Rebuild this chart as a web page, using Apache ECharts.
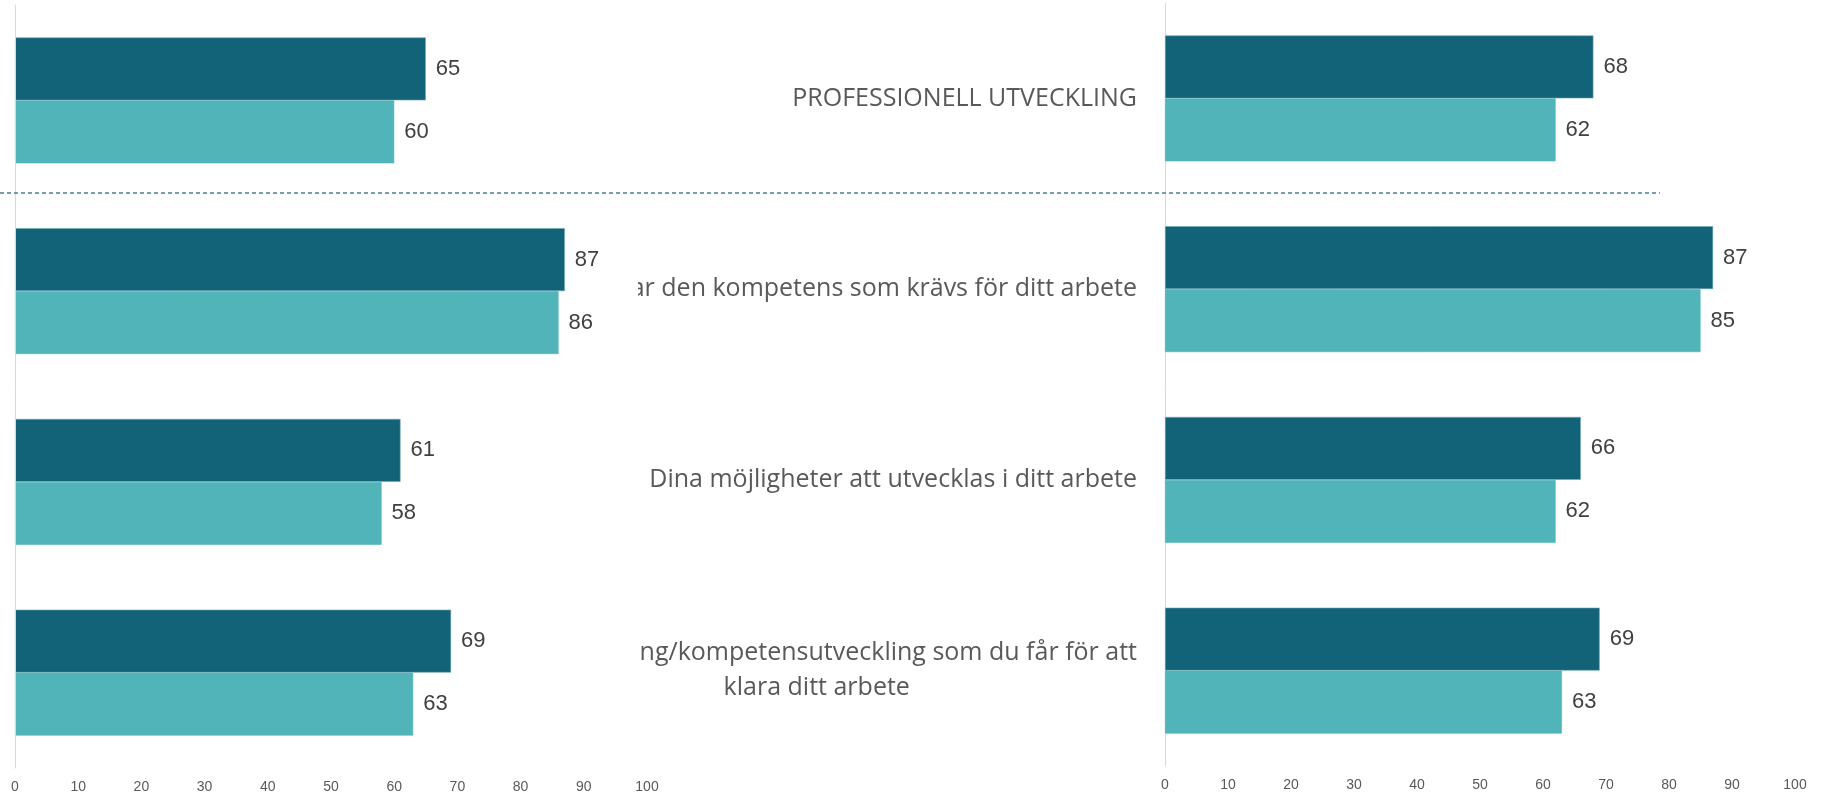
<!DOCTYPE html>
<html>
<head>
<meta charset="utf-8">
<script src="https://cdn.jsdelivr.net/npm/echarts@6/dist/echarts.min.js"></script>
<style>
  html, body { margin: 0; padding: 0; background: #fff; }
  #main { width: 1828px; height: 799px; }
</style>
</head>
<body>
<div id="main"></div>
<script>
// categories (the left chart covers the start of the long labels)
const categories = [
  'PROFESSIONELL UTVECKLING',
  'Du har den kompetens som krävs för ditt arbete',
  'Dina möjligheter att utvecklas i ditt arbete',
  'Den utbildning/kompetensutveckling som du får för att\nklara ditt arbete'
];
const leftDark = [65, 87, 61, 69];
const leftLight = [60, 86, 58, 63];
const rightDark = [68, 87, 66, 69];
const rightLight = [62, 85, 62, 63];
const tickValues = [0, 10, 20, 30, 40, 50, 60, 70, 80, 90, 100];

const DARK = '#126377';
const LIGHT = '#50b4b9';
const FONT = '"Liberation Sans", Arial, sans-serif';
const CAT_FONT = '"Open Sans", "Noto Sans", sans-serif';

const chart = echarts.init(document.getElementById('main'));

const valueAxis = (gridIndex, z) => ({
  type: 'value',
  gridIndex: gridIndex,
  min: tickValues[0],
  max: tickValues[tickValues.length - 1],
  interval: 10,
  z: z,
  axisLine: { show: false },
  axisTick: { show: false },
  splitLine: { show: false },
  axisLabel: { color: '#595959', fontSize: 14, fontFamily: FONT, margin: 12 }
});

const catAxis = (gridIndex, showLabel, z) => ({
  type: 'category',
  gridIndex: gridIndex,
  data: categories,
  inverse: true,
  z: z,
  axisLine: { show: true, lineStyle: { color: '#d9d9d9', width: 1 } },
  axisTick: { show: false },
  axisLabel: {
    show: showLabel,
    margin: 28,
    formatter: v => v.split('\n').map(s => '{c|' + s + '}').join('\n'),
    rich: {
      c: { align: 'center', color: '#595959', fontSize: 25, fontFamily: CAT_FONT, lineHeight: 35 }
    }
  }
});

const barSeries = (name, data, color, idx) => ({
  name: name,
  type: 'bar',
  xAxisIndex: idx,
  yAxisIndex: idx,
  data: data,
  barGap: '0%',
  barCategoryGap: '34%',
  itemStyle: { color: color, borderColor: color === DARK ? '#6fa7b6' : LIGHT, borderWidth: 0.6 },
  label: {
    show: true,
    position: 'right',
    distance: 10,
    color: '#404040',
    fontSize: 22,
    fontFamily: FONT
  }
});

const option = {
  backgroundColor: '#fff',
  animation: false,
  grid: [
    { left: 15, width: 632, top: 5, bottom: 31 },
    { left: 1165, width: 630, top: 3, bottom: 33 }
  ],
  xAxis: [valueAxis(0, 3), valueAxis(1, 0)],
  yAxis: [catAxis(0, false, 3), catAxis(1, true, 0)],
  series: [
    barSeries('Serie 1', leftDark, DARK, 0),
    barSeries('Serie 2', leftLight, LIGHT, 0),
    barSeries('Serie 1', rightDark, DARK, 1),
    barSeries('Serie 2', rightLight, LIGHT, 1)
  ]
};

chart.setOption(option);

// white backing of the left chart, and the dashed separator after the first group
const y0 = chart.convertToPixel({ yAxisIndex: 0 }, 0);
const y1 = chart.convertToPixel({ yAxisIndex: 0 }, 1);
const sepY = Math.round((y0 + y1) / 2) - 3;
chart.setOption({
  graphic: [
    {
      type: 'rect', z: 1, silent: true,
      shape: { x: 0, y: 0, width: 638, height: 799 },
      style: { fill: '#fff' }
    },
    {
      type: 'line', z: 4, silent: true,
      shape: { x1: 0, y1: sepY, x2: 1660, y2: sepY },
      style: { stroke: '#4b7f93', lineWidth: 1.5, lineDash: [4, 3] }
    }
  ]
});
</script>
</body>
</html>
